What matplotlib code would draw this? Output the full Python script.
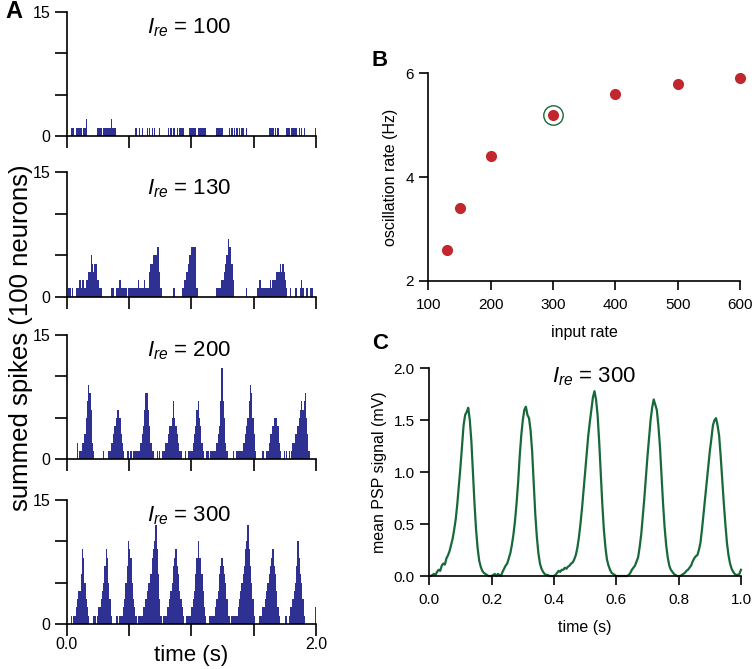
import numpy as np
import matplotlib
matplotlib.use('Agg')
import matplotlib.pyplot as plt

plt.rcParams['font.family'] = ['Liberation Sans', 'DejaVu Sans']
plt.rcParams['mathtext.fontset'] = 'custom'
plt.rcParams['mathtext.rm'] = 'Liberation Sans'
plt.rcParams['mathtext.it'] = 'Liberation Sans:italic'

NAVY = '#2e3192'
RED = '#c1272d'
GREEN = '#17693a'

# ---- panel A : summed spikes, 10 ms bins over 2 s, given as (first bin, counts) runs
bin_width = 0.01
n_bins = 200
spikes_100 = [
    (3, [1, 1, 1, 0, 1, 1, 1, 1, 1, 0, 1, 1, 2]),
    (24, [1, 1, 1, 1, 0, 1, 1, 1, 1, 1, 1, 2, 1, 1, 1]),
    (55, [1, 0, 0, 1, 0, 1, 0, 0, 0, 1, 0, 1, 0, 1, 0, 1, 0, 0, 0, 1]),
    (81, [1, 0, 1, 0, 1, 1, 0, 1, 0, 1, 1, 1, 1]),
    (98, [1, 1, 1, 1, 1, 1, 0, 1, 1, 1, 1, 1, 1, 1]),
    (120, [1, 1, 1, 1, 1, 0, 0, 0, 0, 0, 1, 0, 1, 0, 1, 0, 1, 0, 1, 0, 1, 1, 0, 0, 1]),
    (162, [1, 1, 1, 1, 0, 1, 0, 1]),
    (176, [1, 1, 1, 0, 1, 1, 1, 1, 1, 0, 1, 0, 1, 0, 1]),
    (199, [1]),
]
spikes_130 = [
    (1, [1, 1, 0, 1]),
    (7, [1, 1, 1, 2, 1, 2, 2, 1, 2, 2, 3, 3, 5, 4, 3, 4, 4, 2, 2, 1, 1]),
    (35, [1, 1, 1, 0, 1, 1, 1, 2, 1, 1, 1, 1, 1, 0, 1, 1, 1, 1, 1, 1, 1, 1, 2, 1, 1, 1]),
    (61, [1, 2, 1, 1, 1, 3, 4, 4, 5, 5, 5, 6, 6, 3, 1]),
    (85, [1, 1]),
    (92, [1, 1, 2, 2, 3, 4, 5, 5, 6, 6, 6, 6, 1]),
    (120, [1, 1, 1, 1, 2, 2, 3, 4, 5, 7, 6, 6, 4, 2]),
    (144, [1]),
    (153, [1, 2, 2, 1, 1, 1, 1, 1, 1, 1, 2, 1, 2, 2, 2, 3, 3, 3, 4, 3, 4, 3, 2, 1]),
    (179, [1, 0, 0, 0, 1, 1, 0, 0, 1, 2, 1, 0, 0, 1, 1, 0, 1, 1, 1]),
]
spikes_200 = [
    (8, [2, 0, 1, 1, 2, 2, 3, 5, 7, 9, 8, 6, 2, 1]),
    (29, [1, 0, 0, 0, 1, 1, 2, 2, 3, 4, 5, 6, 6, 5, 3, 2, 1]),
    (48, [1, 1, 0, 1, 0, 1, 1, 1, 1, 1, 1, 2, 3, 4, 6, 8, 8, 6, 4, 2, 1, 1]),
    (72, [1, 0, 1, 0, 1, 1, 1, 2, 2, 3, 4, 4, 5, 7, 5, 4, 3, 2, 1, 1]),
    (95, [1, 0, 1, 1, 1, 1, 2, 3, 4, 6, 7, 5, 4, 2, 1]),
    (112, [1, 1, 0, 1, 1, 1, 1, 1, 2, 3, 4, 7, 11, 7, 5, 2, 1]),
    (133, [1, 0, 0, 1, 1, 1, 1, 1, 2, 2, 3, 4, 5, 7, 9, 8, 5, 3, 1]),
    (157, [1, 0, 0, 1, 1, 2, 3, 3, 4, 5, 5, 5, 4, 2, 1]),
    (174, [1, 0, 1, 0, 1, 0, 1, 2, 2, 3, 3, 4, 5, 6, 7, 6, 7, 8, 5, 3, 1]),
]
spikes_300 = [
    (3, [1, 0, 1, 1, 2, 3, 4, 4, 6, 9, 8, 5, 3, 2, 1]),
    (21, [1, 1, 0, 1, 2, 2, 3, 4, 5, 7, 9, 8, 5, 3, 1]),
    (39, [1, 1, 0, 1, 1, 1, 2, 3, 5, 7, 10, 9, 8, 5, 3, 2, 1]),
    (57, [1, 1, 1, 1, 2, 2, 3, 4, 5, 5, 6, 8, 9, 10, 12, 9, 6, 3, 1]),
    (77, [1, 1, 1, 2, 2, 3, 4, 5, 7, 8, 9, 7, 6, 4, 3, 2, 1]),
    (96, [1, 1, 1, 1, 2, 3, 4, 6, 8, 10, 8, 8, 6, 4, 2, 1]),
    (114, [1, 1, 1, 1, 1, 2, 3, 4, 6, 7, 8, 7, 6, 5, 3, 1, 1]),
    (132, [1, 1, 1, 1, 1, 2, 3, 4, 5, 6, 7, 9, 10, 12, 9, 7, 5, 3, 1]),
    (154, [1, 1, 1, 2, 2, 3, 4, 5, 6, 7, 8, 9, 7, 6, 4, 2, 1]),
    (175, [1, 1, 0, 1, 2, 2, 3, 4, 5, 7, 10, 8, 6, 5, 3, 1]),
    (199, [2]),
]
rates_a = [100, 130, 200, 300]

# ---- panel B : oscillation rate vs input rate
input_rate = [130, 150, 200, 300, 400, 500, 600]
osc_rate = [2.6, 3.4, 4.4, 5.2, 5.6, 5.8, 5.9]
marked_rate = 300

# ---- panel C : mean PSP signal, read every 5 ms
psp_time = np.arange(201) * 0.005
psp_mv = [
    0.0, 0.0, 0.01, 0.02, 0.01, 0.04, 0.06, 0.05, 0.1, 0.12,
    0.11, 0.17, 0.2, 0.24, 0.3, 0.36, 0.45, 0.55, 0.7, 0.87,
    1.05, 1.25, 1.45, 1.55, 1.58, 1.62, 1.5, 1.3, 1.0, 0.7,
    0.45, 0.27, 0.15, 0.09, 0.05, 0.03, 0.02, 0.01, 0.0, 0.0,
    0.0, 0.01, 0.02, 0.0, 0.02, 0.01, 0.0, 0.04, 0.07, 0.1,
    0.12, 0.17, 0.22, 0.3, 0.4, 0.53, 0.7, 0.9, 1.15, 1.35,
    1.5, 1.6, 1.63, 1.55, 1.52, 1.4, 1.2, 0.9, 0.6, 0.38,
    0.22, 0.12, 0.07, 0.04, 0.02, 0.01, 0.01, 0.0, 0.0, 0.0,
    0.0, 0.01, 0.03, 0.05, 0.04, 0.06, 0.06, 0.08, 0.07, 0.09,
    0.1, 0.12, 0.13, 0.16, 0.2, 0.27, 0.37, 0.5, 0.65, 0.82,
    1.0, 1.18, 1.35, 1.48, 1.6, 1.72, 1.78, 1.7, 1.55, 1.3,
    1.0, 0.7, 0.45, 0.28, 0.16, 0.1, 0.06, 0.03, 0.02, 0.01,
    0.0, 0.0, 0.0, 0.0, 0.0, 0.0, 0.0, 0.0, 0.01, 0.03,
    0.06, 0.08, 0.1, 0.14, 0.18, 0.28, 0.4, 0.57, 0.75, 0.95,
    1.15, 1.33, 1.5, 1.62, 1.7, 1.65, 1.6, 1.45, 1.25, 0.98,
    0.7, 0.47, 0.3, 0.18, 0.1, 0.06, 0.04, 0.02, 0.01, 0.0,
    0.0, 0.0, 0.01, 0.02, 0.03, 0.05, 0.06, 0.08, 0.1, 0.14,
    0.17, 0.19, 0.2, 0.25, 0.32, 0.45, 0.6, 0.75, 0.9, 1.05,
    1.2, 1.32, 1.45, 1.5, 1.52, 1.45, 1.35, 1.15, 0.92, 0.7,
    0.5, 0.32, 0.2, 0.12, 0.07, 0.04, 0.02, 0.01, 0.01, 0.02,
    0.06,
]


def style_axes(ax, ticklen=6.5, size=11, xpad=6, ypad=4):
    for side in ['top', 'right']:
        ax.spines[side].set_visible(False)
    for side in ['left', 'bottom']:
        ax.spines[side].set_linewidth(1.2)
    ax.tick_params(direction='out', length=ticklen, width=1.2, labelsize=size)
    ax.tick_params(axis='x', pad=xpad)
    ax.tick_params(axis='y', pad=ypad)


def runs_to_counts(runs):
    counts = np.zeros(n_bins)
    for first, vals in runs:
        counts[first:first + len(vals)] = vals
    return counts


fig = plt.figure(figsize=(7.55, 6.69), dpi=100)

bottoms = [0.7967, 0.5565, 0.3135, 0.0673]
all_runs = [spikes_100, spikes_130, spikes_200, spikes_300]
edges = np.arange(n_bins) * bin_width
for i, runs in enumerate(all_runs):
    ax = fig.add_axes([0.0887, bottoms[i], 0.3298, 0.1858])
    ax.bar(edges, runs_to_counts(runs), width=bin_width, align='edge',
           color=NAVY, edgecolor='none', linewidth=0)
    ax.set_xlim(0, 2.0)
    ax.set_ylim(0, 15)
    style_axes(ax, ticklen=8.3, size=11.5, xpad=1, ypad=3.5)
    ax.set_yticks([0, 5, 10, 15])
    ax.set_yticklabels(['0', '', '', '15'])
    ax.set_xticks([0, 0.5, 1.0, 1.5, 2.0])
    if i == 3:
        ax.set_xticklabels(['0.0', '', '', '', '2.0'])
        ax.set_xlabel('time (s)', fontsize=16, labelpad=-5)
    else:
        ax.set_xticklabels([])
    ax.text(0.49, 0.87, r'$I_{re}$ = %d' % rates_a[i], transform=ax.transAxes,
            ha='center', va='center', fontsize=16)

fig.text(0.028, 0.495, 'summed spikes (100 neurons)', rotation=90,
         ha='center', va='center', fontsize=18.5)
fig.text(0.019, 0.983, 'A', fontsize=17, fontweight='bold', ha='center', va='center')
fig.text(0.503, 0.910, 'B', fontsize=16, fontweight='bold', ha='center', va='center')
fig.text(0.503, 0.487, 'C', fontsize=16, fontweight='bold', ha='center', va='center')

# panel B
axb = fig.add_axes([0.5673, 0.58, 0.4132, 0.3105])
axb.plot(input_rate, osc_rate, 'o', color=RED, markersize=7, clip_on=False)
axb.plot([marked_rate], [osc_rate[input_rate.index(marked_rate)]], 'o',
         markerfacecolor='none', markeredgecolor=GREEN, markersize=14,
         markeredgewidth=1.0, clip_on=False)
axb.set_xlim(100, 600)
axb.set_ylim(2, 6)
axb.set_xticks([100, 200, 300, 400, 500, 600])
axb.set_yticks([2, 4, 6])
style_axes(axb)
axb.set_xlabel('input rate', fontsize=11.5, labelpad=9)
axb.set_ylabel('oscillation rate (Hz)', fontsize=11.5, labelpad=5)

# panel C
axc = fig.add_axes([0.5686, 0.139, 0.4128, 0.3105])
axc.plot(psp_time, psp_mv, color=GREEN, linewidth=1.6, clip_on=False)
axc.set_xlim(0, 1.0)
axc.set_ylim(0, 2.0)
axc.set_xticks([0.0, 0.2, 0.4, 0.6, 0.8, 1.0])
axc.set_xticklabels(['0.0', '0.2', '0.4', '0.6', '0.8', '1.0'])
axc.set_yticks([0.0, 0.5, 1.0, 1.5, 2.0])
axc.set_yticklabels(['0.0', '0.5', '1.0', '1.5', '2.0'])
style_axes(axc)
axc.set_xlabel('time (s)', fontsize=11.5, labelpad=9)
axc.set_ylabel('mean PSP signal (mV)', fontsize=11.5, labelpad=5)
axc.text(0.528, 0.958, r'$I_{re}$ = 300', transform=axc.transAxes,
         ha='center', va='center', fontsize=16)

fig.savefig('out.png', dpi=100)
